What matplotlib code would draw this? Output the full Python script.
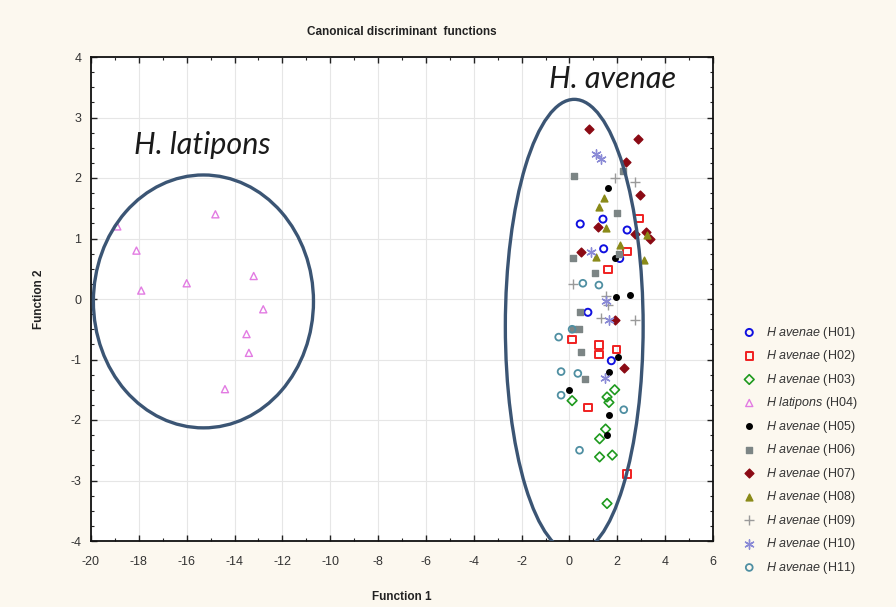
import matplotlib
matplotlib.use("Agg")
import matplotlib.pyplot as plt
from matplotlib.patches import Ellipse
from matplotlib.ticker import MultipleLocator

plt.rcParams["font.family"] = ["Liberation Sans", "DejaVu Sans"]
plt.rcParams["mathtext.fontset"] = "custom"
plt.rcParams["mathtext.it"] = "Liberation Sans:italic"
plt.rcParams["mathtext.rm"] = "Liberation Sans"
plt.rcParams["axes.unicode_minus"] = False

# Canonical scores (Function 1, Function 2) for each population
h01_x = [0.45, 1.40, 2.41, 1.43, 2.10, 0.77, 1.75]
h01_y = [1.24, 1.32, 1.14, 0.83, 0.67, -0.22, -1.02]

h02_x = [2.90, 2.41, 1.61, 0.11, 1.23, 1.23, 1.96, 0.77, 2.41]
h02_y = [1.33, 0.79, 0.49, -0.67, -0.76, -0.92, -0.84, -1.79, -2.89]

h03_x = [1.89, 0.11, 1.57, 1.65, 1.51, 1.26, 1.26, 1.79, 1.57]
h03_y = [-1.50, -1.68, -1.62, -1.71, -2.15, -2.31, -2.61, -2.58, -3.38]

h04_x = [-14.8, -18.1, -13.2, -16.0, -17.9, -12.8, -13.5, -13.4, -14.4, -18.9]
h04_y = [1.40, 0.80, 0.38, 0.26, 0.14, -0.17, -0.58, -0.89, -1.49, 1.20]

h05_x = [1.61, 1.89, 1.96, 2.55, 2.03, 1.65, -0.03, 1.65, 1.57]
h05_y = [1.84, 0.67, 0.04, 0.07, -0.96, -1.20, -1.51, -1.92, -2.25]

h06_x = [2.24, 0.21, 2.00, 2.07, 0.14, 1.05, 0.42, 0.14, 0.39, 0.49, 0.67]
h06_y = [2.11, 2.03, 1.42, 0.75, 0.68, 0.43, -0.21, -0.50, -0.50, -0.88, -1.33]

h07_x = [0.80, 2.87, 2.38, 2.94, 1.19, 2.73, 3.19, 3.36, 0.49, 2.28, 1.89]
h07_y = [2.81, 2.64, 2.26, 1.72, 1.19, 1.07, 1.11, 1.00, 0.78, -1.14, -0.34]

h08_x = [1.43, 1.22, 1.54, 2.10, 1.12, 3.10, 3.25]
h08_y = [1.67, 1.52, 1.18, 0.89, 0.69, 0.64, 1.05]

h09_x = [1.89, 2.73, 0.14, 1.51, 1.33, 2.73, 1.60]
h09_y = [2.00, 1.94, 0.25, 0.05, -0.32, -0.34, -0.10]

h10_x = [1.12, 1.33, 0.91, 1.51, 1.47, 1.65]
h10_y = [2.39, 2.31, 0.78, -0.04, -1.30, -0.34]

h11_x = [0.56, 1.23, -0.45, -0.35, 0.35, -0.35, 2.27, 0.42, 0.11]
h11_y = [0.26, 0.23, -0.63, -1.20, -1.23, -1.59, -1.83, -2.50, -0.50]

group_labels = ["H01", "H02", "H03", "H04", "H05", "H06",
                "H07", "H08", "H09", "H10", "H11"]
species = ["avenae", "avenae", "avenae", "latipons", "avenae", "avenae",
           "avenae", "avenae", "avenae", "avenae", "avenae"]

# Concentration ellipses: (centre x, centre y, width, height)
ell_latipons = (-15.3, -0.04, 9.2, 4.18)
ell_avenae = (0.2, -0.45, 5.76, 7.5)

groups = [
    (h01_x, h01_y, dict(marker="o", facecolors="none", edgecolors="#1010e0", linewidths=1.4, s=26)),
    (h02_x, h02_y, dict(marker="s", facecolors="none", edgecolors="#f02020", linewidths=1.4, s=28)),
    (h03_x, h03_y, dict(marker="D", facecolors="none", edgecolors="#1e9a1e", linewidths=1.2, s=24)),
    (h04_x, h04_y, dict(marker="^", facecolors="none", edgecolors="#e27be2", linewidths=1.0, s=26)),
    (h05_x, h05_y, dict(marker="o", color="#000000", s=16)),
    (h06_x, h06_y, dict(marker="s", color="#7c8585", s=20)),
    (h07_x, h07_y, dict(marker="D", color="#8b0a14", s=20)),
    (h08_x, h08_y, dict(marker="^", color="#8a8a18", s=24)),
    (h09_x, h09_y, dict(marker="+", color="#9a9a9a", linewidths=1.0, s=50)),
    (h10_x, h10_y, dict(marker=(6, 2, 0), color="#8a8ad6", linewidths=1.0, s=45)),
    (h11_x, h11_y, dict(marker="o", facecolors="none", edgecolors="#4f8fa2", linewidths=1.3, s=24)),
]

fig = plt.figure(figsize=(8.96, 6.07), dpi=100)
fig.patch.set_facecolor("#fcf8ef")
ax = fig.add_axes([91 / 896, 1 - 541 / 607, (713 - 91) / 896, (541 - 57) / 607])
ax.set_facecolor("white")

handles = []
for (xs, ys, style), lab, sp in zip(groups, group_labels, species):
    h = ax.scatter(xs, ys, zorder=3, clip_on=False,
                   label=r"$\mathit{H\ %s}$ (%s)" % (sp, lab), **style)
    handles.append(h)

for cx, cy, w, hgt in (ell_latipons, ell_avenae):
    ax.add_patch(Ellipse((cx, cy), w, hgt, fill=False, edgecolor="#3b5574",
                         linewidth=2.4, zorder=4))

ax.text(-15.35, 2.55, "H. latipons", fontsize=22, style="italic",
        family="Lato", color="#1a1a1a", ha="center", va="center", zorder=5)
ax.text(1.8, 3.63, "H. avenae", fontsize=22, style="italic",
        family="Lato", color="#1a1a1a", ha="center", va="center", zorder=5)

ax.set_xlim(-20, 6)
ax.set_ylim(-4, 4)
ax.xaxis.set_major_locator(MultipleLocator(2))
ax.xaxis.set_minor_locator(MultipleLocator(1))
ax.yaxis.set_major_locator(MultipleLocator(1))
ax.yaxis.set_minor_locator(MultipleLocator(0.25))
ax.tick_params(which="both", direction="in", top=True, right=True,
               colors="#222222", labelcolor="#333333", labelsize=9)
ax.tick_params(axis="x", which="major", length=4, width=1.0, pad=11)
ax.tick_params(axis="y", which="major", length=4, width=1.0, pad=7)
ax.tick_params(which="minor", length=2.5, width=0.8)
ax.grid(True, which="major", color="#e6e6e6", linewidth=0.8, zorder=0)
for sp in ax.spines.values():
    sp.set_linewidth(1.3)
    sp.set_color("#111111")

ax.set_title("Canonical discriminant  functions", fontsize=8.5,
             fontweight="bold", pad=16, color="#222222")
ax.set_xlabel("Function 1", fontsize=8.5, fontweight="bold", labelpad=16,
              color="#222222")
ax.set_ylabel("Function 2", fontsize=8.5, fontweight="bold", labelpad=18,
              color="#222222")

fig.legend(handles=handles, loc="upper left",
           bbox_to_anchor=(733 / 896, 1 - 316 / 607), frameon=False,
           fontsize=9, labelspacing=0.6, handletextpad=0.7,
           handlelength=1.2, borderpad=0.2, labelcolor="#333333")

fig.savefig("out.png", dpi=100, facecolor=fig.get_facecolor())
